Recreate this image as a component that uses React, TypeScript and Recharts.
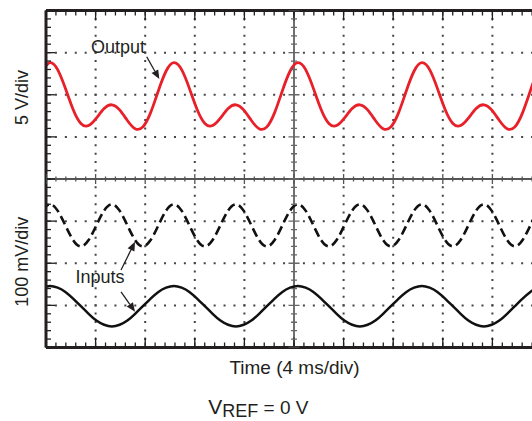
import React from 'react';
import { ComposedChart, Line, XAxis, YAxis, CartesianGrid, ReferenceLine, Scatter } from 'recharts';

// sample times in ms, one every 1/16 of the 10 ms input period (first peak at ~0.31 ms)
const timeMs = [
  -0.3125,
  0.3125, 0.9375, 1.5625, 2.1875, 2.8125, 3.4375, 4.0625, 4.6875, 5.3125, 5.9375, 6.5625, 7.1875, 7.8125, 8.4375, 9.0625, 9.6875,
  10.3125, 10.9375, 11.5625, 12.1875, 12.8125, 13.4375, 14.0625, 14.6875, 15.3125, 15.9375, 16.5625, 17.1875, 17.8125, 18.4375, 19.0625, 19.6875,
  20.3125, 20.9375, 21.5625, 22.1875, 22.8125, 23.4375, 24.0625, 24.6875, 25.3125, 25.9375, 26.5625, 27.1875, 27.8125, 28.4375, 29.0625, 29.6875,
  30.3125, 30.9375, 31.5625, 32.1875, 32.8125, 33.4375, 34.0625, 34.6875, 35.3125, 35.9375, 36.5625, 37.1875, 37.8125, 38.4375, 39.0625, 39.6875,
  40.3125,
];

// output, volts (5 V/div, 0 V on the 2nd grid line)
const outputV = [
  2.82,
  3.81, 2.98, 0.76, -1.75, -3.41, -3.66, -2.78, -1.64, -1.19, -1.8, -3.06, -4.03, -3.81, -2.12, 0.48, 2.82,
  3.81, 2.98, 0.76, -1.75, -3.41, -3.66, -2.78, -1.64, -1.19, -1.8, -3.06, -4.03, -3.81, -2.12, 0.48, 2.82,
  3.81, 2.98, 0.76, -1.75, -3.41, -3.66, -2.78, -1.64, -1.19, -1.8, -3.06, -4.03, -3.81, -2.12, 0.48, 2.82,
  3.81, 2.98, 0.76, -1.75, -3.41, -3.66, -2.78, -1.64, -1.19, -1.8, -3.06, -4.03, -3.81, -2.12, 0.48, 2.82,
  3.81,
];

// dashed input, mV (200 Hz)
const inputFastMv = [
  125,
  140, 125, 90, 55, 40, 55, 90, 125, 140, 125, 90, 55, 40, 55, 90, 125,
  140, 125, 90, 55, 40, 55, 90, 125, 140, 125, 90, 55, 40, 55, 90, 125,
  140, 125, 90, 55, 40, 55, 90, 125, 140, 125, 90, 55, 40, 55, 90, 125,
  140, 125, 90, 55, 40, 55, 90, 125, 140, 125, 90, 55, 40, 55, 90, 125,
  140,
];

// solid input, mV (100 Hz)
const inputSlowMv = [
  -58,
  -54, -58, -68, -84, -102, -120, -136, -146, -150, -146, -136, -120, -102, -84, -68, -58,
  -54, -58, -68, -84, -102, -120, -136, -146, -150, -146, -136, -120, -102, -84, -68, -58,
  -54, -58, -68, -84, -102, -120, -136, -146, -150, -146, -136, -120, -102, -84, -68, -58,
  -54, -58, -68, -84, -102, -120, -136, -146, -150, -146, -136, -120, -102, -84, -68, -58,
  -54,
];

const data = timeMs.map((t, i) => ({ t, out: outputV[i], fast: inputFastMv[i], slow: inputSlowMv[i] }));

// scope graticule: 10 x 8 divisions, 5 minor ticks per division
const minorT = Array.from({ length: 51 }, (_, i) => +(i * 0.8).toFixed(1));
const majorT = Array.from({ length: 11 }, (_, i) => i * 4);
const minorMv = Array.from({ length: 41 }, (_, i) => -200 + i * 20);
const majorMv = Array.from({ length: 9 }, (_, i) => -200 + i * 100);
const centerRowTicks = minorT.map(t => ({ t, mv: 200 }));
const centerColTicks = minorMv.map(mv => ({ t: 20, mv }));

const INK = '#231f20';
const FONT = '"Liberation Sans", Arial, Helvetica, sans-serif';

const NoLabel = () => <g />;

const HTick = (p: any) => {
  const h = p.payload.t % 4 === 0 ? 5 : 2.5;
  return <line x1={p.cx} x2={p.cx} y1={p.cy - h} y2={p.cy + h} stroke="#555" strokeWidth={1.3} />;
};
const VTick = (p: any) => {
  const w = p.payload.mv % 100 === 0 ? 5.5 : 3;
  return <line x1={p.cx - w} x2={p.cx + w} y1={p.cy} y2={p.cy} stroke="#666" strokeWidth={1.3} />;
};

const Arrow = (p: any) => {
  const { x1, y1, x2, y2 } = p;
  if (x1 == null) return <g />;
  const len = Math.hypot(x2 - x1, y2 - y1);
  const ux = (x2 - x1) / len, uy = (y2 - y1) / len;
  const bx = x2 - ux * 9, by = y2 - uy * 9;
  return (
    <g>
      <line x1={x1} y1={y1} x2={bx} y2={by} stroke={INK} strokeWidth={1.3} />
      <polygon points={`${x2},${y2} ${bx - uy * 3.8},${by + ux * 3.8} ${bx + uy * 3.8},${by - ux * 3.8}`} fill={INK} />
    </g>
  );
};

const frameLine = { stroke: INK, strokeWidth: 3 };
const tickStyle = { stroke: INK, strokeWidth: 1.3 };

export default function App() {
  return (
    <div style={{ position: 'absolute', left: 0, top: 0, width: 532, height: 421, overflow: 'hidden', background: '#fff' }}>
      <ComposedChart width={600} height={421} data={data} margin={{ top: 10.5, right: 58, bottom: 73.5, left: 46 }}>
        <XAxis xAxisId="x" dataKey="t" type="number" domain={[0, 40]} ticks={minorT} interval={0} allowDataOverflow
          orientation="bottom" mirror height={1} tickSize={5} tick={NoLabel} axisLine={frameLine} tickLine={tickStyle} />
        <XAxis xAxisId="xMaj" dataKey="t" type="number" domain={[0, 40]} ticks={majorT} interval={0} allowDataOverflow
          orientation="bottom" mirror height={1} tickSize={9} tick={NoLabel} axisLine={false} tickLine={tickStyle} />
        <XAxis xAxisId="top" dataKey="t" type="number" domain={[0, 40]} ticks={minorT} interval={0} allowDataOverflow
          orientation="top" mirror height={1} tickSize={5} tick={NoLabel} axisLine={frameLine} tickLine={tickStyle} />
        <XAxis xAxisId="topMaj" dataKey="t" type="number" domain={[0, 40]} ticks={majorT} interval={0} allowDataOverflow
          orientation="top" mirror height={1} tickSize={9} tick={NoLabel} axisLine={false} tickLine={tickStyle} />
        <YAxis yAxisId="in" type="number" domain={[-200, 600]} ticks={minorMv} interval={0} allowDataOverflow
          mirror width={1} tickSize={5} tick={NoLabel} axisLine={frameLine} tickLine={tickStyle} />
        <YAxis yAxisId="inMaj" type="number" domain={[-200, 600]} ticks={majorMv} interval={0} allowDataOverflow
          mirror width={1} tickSize={8} tick={NoLabel} axisLine={false} tickLine={tickStyle} />
        <YAxis yAxisId="out" type="number" domain={[-30, 10]} hide allowDataOverflow />

        <CartesianGrid xAxisId="xMaj" yAxisId="inMaj" vertical={false} stroke="#444" strokeWidth={2}
          strokeDasharray="2 7.92" strokeDashoffset={1} />
        <CartesianGrid xAxisId="xMaj" yAxisId="inMaj" horizontal={false} stroke="#444" strokeWidth={2}
          strokeDasharray="2 6.42" strokeDashoffset={1} />

        <ReferenceLine xAxisId="x" yAxisId="in" y={200} stroke="#555" strokeWidth={2} />
        <ReferenceLine xAxisId="x" yAxisId="in" x={20} stroke="#707070" strokeWidth={2} />
        <Scatter xAxisId="x" yAxisId="in" data={centerRowTicks} dataKey="mv" shape={HTick} isAnimationActive={false} />
        <Scatter xAxisId="x" yAxisId="in" data={centerColTicks} dataKey="mv" shape={VTick} isAnimationActive={false} />

        <Line xAxisId="x" yAxisId="out" dataKey="out" type="natural" stroke="#e8202a" strokeWidth={2.8}
          dot={false} activeDot={false} isAnimationActive={false} />
        <Line xAxisId="x" yAxisId="in" dataKey="fast" type="natural" stroke="#111" strokeWidth={2.6}
          strokeDasharray="9 4.5" dot={false} activeDot={false} isAnimationActive={false} />
        <Line xAxisId="x" yAxisId="in" dataKey="slow" type="natural" stroke="#111" strokeWidth={2.5}
          dot={false} activeDot={false} isAnimationActive={false} />

        <ReferenceLine xAxisId="x" yAxisId="out" segment={[{ x: 8.12, y: 4.51 }, { x: 9.14, y: 1.86 }]} shape={Arrow} />
        <ReferenceLine xAxisId="x" yAxisId="in" segment={[{ x: 6.05, y: -16 }, { x: 7.18, y: 51 }]} shape={Arrow} />
        <ReferenceLine xAxisId="x" yAxisId="in" segment={[{ x: 6.05, y: -68 }, { x: 7.18, y: -115 }]} shape={Arrow} />
      </ComposedChart>

      <svg width={532} height={421} style={{ position: 'absolute', left: 0, top: 0, pointerEvents: 'none' }}
        fontFamily={FONT} fontSize={18} fill={INK}>
        <text x={118} y={53} textAnchor="middle">Output</text>
        <text x={100} y={283} textAnchor="middle">Inputs</text>
        <text transform="translate(28,97.5) rotate(-90)" textAnchor="middle">5 V/div</text>
        <text transform="translate(28,261.7) rotate(-90)" textAnchor="middle">100 mV/div</text>
        <text x={294.5} y={374.3} textAnchor="middle" fontSize={19}>Time (4 ms/div)</text>
        <text x={208.3} y={414}>
          <tspan fontSize={21}>V</tspan>
          <tspan fontSize={18} dy={3}>REF</tspan>
          <tspan fontSize={19} dy={-3}> = 0 V</tspan>
        </text>
      </svg>
    </div>
  );
}
